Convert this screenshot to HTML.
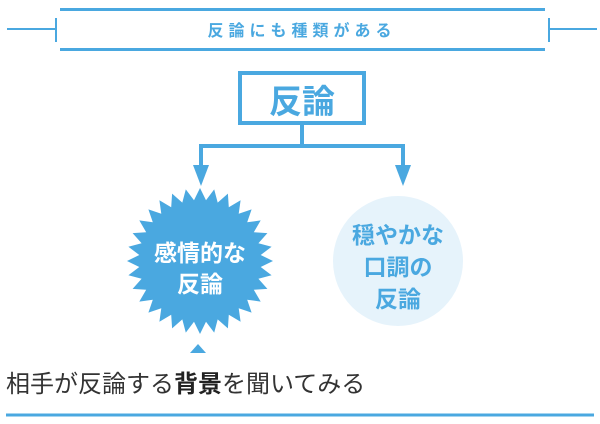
<!DOCTYPE html>
<html><head><meta charset="utf-8"><style>
html,body{margin:0;padding:0;background:#fff;width:600px;height:424px;overflow:hidden}
svg{display:block}
</style></head><body>
<svg id="s" width="600" height="424" viewBox="0 0 600 424" xmlns="http://www.w3.org/2000/svg" font-family="Liberation Sans, Noto Sans CJK JP, sans-serif">
<g stroke="#4aa8e0" fill="none">
<line x1="60" y1="9.5" x2="545" y2="9.5" stroke-width="3"/>
<line x1="60" y1="49.5" x2="545" y2="49.5" stroke-width="3"/>
<line x1="7" y1="29" x2="56" y2="29" stroke-width="2"/>
<line x1="56" y1="18" x2="56" y2="42" stroke-width="2"/>
<line x1="549" y1="29" x2="597" y2="29" stroke-width="2"/>
<line x1="549" y1="18" x2="549" y2="42" stroke-width="2"/>
<rect x="240" y="73" width="124" height="50" stroke-width="4"/>
<polyline points="302,125 302,146 201,146 201,168" stroke-width="4"/>
<polyline points="302,146 403,146 403,168" stroke-width="4"/>
<line x1="6" y1="415" x2="594" y2="415" stroke-width="3"/>
</g>
<polygon points="193,165 209,165 201,186" fill="#4aa8e0"/>
<polygon points="395,165 411,165 403,186" fill="#4aa8e0"/>
<polygon id="star" fill="#4aa8e0" points=""/>
<circle cx="398" cy="261" r="65" fill="#e6f3fb"/>
<polygon points="190,353 206,353 198,344" fill="#4aa8e0"/>
<text x="302" y="36" text-anchor="middle" font-size="16" font-weight="bold" fill="#4aa8e0" letter-spacing="5">反論にも種類がある</text>
<text x="302" y="113" text-anchor="middle" font-size="33" font-weight="bold" fill="#4aa8e0">反論</text>
<g font-size="23" font-weight="bold" fill="#fff" text-anchor="middle">
<text x="200" y="261">感情的な</text>
<text x="200" y="292">反論</text>
</g>
<g font-size="23" font-weight="bold" fill="#4aa8e0" text-anchor="middle">
<text x="398" y="243">穏やかな</text>
<text x="398" y="275">口調の</text>
<text x="398" y="307">反論</text>
</g>
<text x="6" y="392" font-size="24" fill="#333">相手が反論する<tspan font-weight="bold" fill="#222">背景</tspan>を聞いてみる</text>
</svg>
<script>
var p=[],n=32,cx=200,cy=261;
for(var i=0;i<n*2;i++){var r=i%2?61:73,a=Math.PI*i/n-Math.PI/2;p.push((cx+r*Math.cos(a)).toFixed(1)+','+(cy+r*Math.sin(a)).toFixed(1));}
document.getElementById('star').setAttribute('points',p.join(' '));
</script>
</body></html>
